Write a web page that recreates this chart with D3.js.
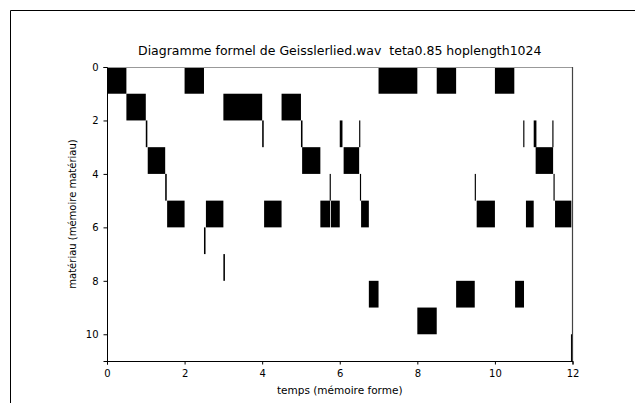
<!DOCTYPE html>
<html><head><meta charset="utf-8">
<script src="https://cdn.jsdelivr.net/npm/d3@7"></script>
<style>body{margin:0;background:#fff}svg{display:block}text{font-family:"DejaVu Sans",sans-serif}</style>
</head><body>
<svg id="c" width="635" height="403"></svg>
<script>
const title = "Diagramme formel de Geisslerlied.wav  teta0.85 hoplength1024";
const xLabel = "temps (mémoire forme)";
const yLabel = "matériau (mémoire matériau)";
const xTicks = [0, 2, 4, 6, 8, 10, 12];
const yTicks = [0, 2, 4, 6, 8, 10];
// segments: material row, start time, end time
const segRow   = [0,0,0,0,0, 1,1,1, 2,2,2,2,2,2,2,2, 3,3,3,3, 4,4,4,4,4, 5,5,5,5,5,5,5,5,5, 6, 7, 8,8,8, 9, 10];
const segStart = [0,2.0,7.0,8.5,10.0, 0.5,3.0,4.5, 1.0,4.0,5.0,6.0,6.5,10.73,11.0,11.48, 1.05,5.03,6.1,11.05, 1.5,5.74,6.52,9.48,11.51, 1.55,2.55,4.05,5.5,5.77,6.55,9.53,10.8,11.55, 2.5, 3.0, 6.75,9.0,10.52, 8.0, 11.96];
const segEnd   = [0.5,2.5,8.0,9.0,10.5, 1.0,4.0,5.0, 1.04,4.04,5.04,6.07,6.53,10.76,11.07,11.51, 1.5,5.5,6.5,11.5, 1.54,5.77,6.55,9.51,11.54, 2.0,3.0,4.5,5.75,6.0,6.75,10.0,11.0,11.97, 2.54, 3.04, 7.0,9.48,10.75, 8.5, 12.0];

const svg = d3.select("#c");
const L = 107, R = 572.5, T = 67, B = 361;
const x = d3.scaleLinear().domain([0, 12]).range([L, R]);
const y = d3.scaleLinear().domain([0, 11]).range([T, B]);

// outer frame
svg.append("path").attr("d", `M10.5,403 V10.5 H635`).attr("fill","none").attr("stroke","#000").attr("stroke-width",1);

const segs = segRow.map((r,i)=>({r, s:segStart[i], e:segEnd[i]}));
svg.append("g").selectAll("rect").data(segs).join("rect")
  .attr("x", d=>x(d.s)).attr("width", d=>Math.max(1, x(d.e)-x(d.s)))
  .attr("y", d=>y(d.r)).attr("height", d=>y(d.r+1)-y(d.r))
  .attr("fill","#000");

// spines
svg.append("line").attr("x1",L).attr("x2",R).attr("y1",T+0.5).attr("y2",T+0.5).attr("stroke","#999");
svg.append("line").attr("x1",R).attr("x2",R).attr("y1",T).attr("y2",B).attr("stroke","#444").attr("stroke-width",1.2);

const xa = svg.append("g").attr("transform",`translate(0,${B})`)
  .call(d3.axisBottom(x).tickValues(xTicks).tickSize(3.5).tickPadding(5).tickFormat(d3.format("d")));
const ya = svg.append("g").attr("transform",`translate(${L},0)`)
  .call(d3.axisLeft(y).tickValues(yTicks).tickSize(3.5).tickPadding(5).tickFormat(d3.format("d")));
[xa, ya].forEach(a=>{
  a.select(".domain").attr("stroke","#000").attr("stroke-width",1);
  a.selectAll("text").attr("font-size",10).attr("fill","#000");
  a.selectAll(".tick line").attr("stroke","#000");
});

svg.append("text").attr("x",(L+R)/2).attr("y",55).attr("text-anchor","middle")
  .style("white-space","pre").attr("font-size",12.5).text(title);
svg.append("text").attr("x",(L+R)/2).attr("y",394).attr("text-anchor","middle")
  .attr("font-size",10.5).text(xLabel);
svg.append("text").attr("transform",`translate(76,${(T+B)/2}) rotate(-90)`).attr("text-anchor","middle")
  .attr("font-size",10).text(yLabel);
</script>
</body></html>
